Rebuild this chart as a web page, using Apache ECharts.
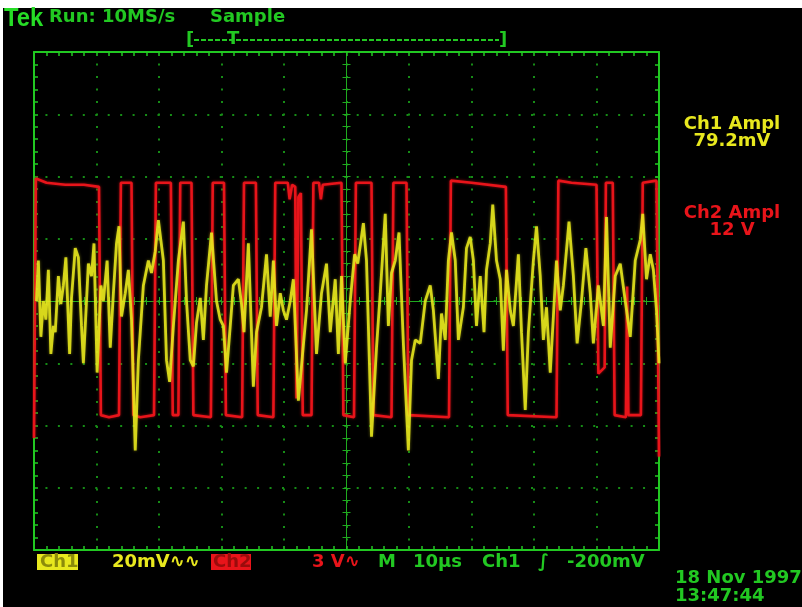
<!DOCTYPE html>
<html><head><meta charset="utf-8">
<script src="https://cdn.jsdelivr.net/npm/echarts@6/dist/echarts.min.js"></script>
<style>
html,body{margin:0;padding:0;background:#fff;}
#screen{position:absolute;left:3px;top:8px;width:799px;height:599px;background:#000;}
#chart{position:absolute;left:0;top:0;width:802px;height:607px;}
</style></head><body>
<div id="screen"></div><div id="chart"></div>
<script>
// Horizontal: 10 divisions of 10 µs. Ch1 at 20 mV/div, Ch2 at 3 V/div, 8 divisions each.
const timeRange = [0, 100];
const ch1Range = [-80, 80];
const ch2Range = [-12, 12];

// Ch1 trace: [time µs, mV]
const ch1Trace = [
  [0.4,0],[0.7,13],[1.1,-11.5],[1.5,0],[1.9,-6],[2.3,10],[2.7,-17],[3.1,-8],[3.4,-10],[3.9,8],
  [4.3,-1],[4.7,5],[5.1,14],[5.7,-17],[6.0,1],[6.6,17],[7.1,14],[7.6,-8],[7.9,-20],[8.4,0],
  [8.7,12],[9.2,8],[9.6,18.5],[10.1,-23],[10.7,5],[11.1,0],[11.7,13],[12.2,-15],[12.7,2.5],[13.2,18.5],
  [13.6,24],[14.0,-5],[14.6,2.5],[15.1,10],[15.6,-6],[16.2,-48],[16.7,-19],[17.5,5],[18.3,13],[18.8,9],
  [19.4,16],[19.9,26],[20.7,13],[21.2,-19],[21.7,-26],[22.3,-8],[23.1,13],[23.9,25.5],[24.4,0],[25.0,-19],
  [25.5,-21],[26.0,-7],[26.6,1],[27.1,-12.5],[27.6,5],[28.4,22],[29.2,0],[29.8,-6],[30.3,-8],[30.8,-23],
  [31.4,-8],[31.9,5],[32.7,7],[33.2,-1],[33.6,-10],[34.3,18.5],[35.1,-27.5],[35.6,-10],[36.4,-2],[37.2,15],
  [37.8,-5],[38.3,13],[38.8,-8],[39.4,2.5],[39.9,-3],[40.4,-6],[41.0,0],[41.5,7],[42.3,-32],[43.6,-3],
  [44.4,23],[45.2,-17],[46.0,2.5],[46.8,12],[47.4,-10],[48.2,7],[48.7,-17],[49.2,8],[49.8,-20],[50.6,0],
  [51.3,15],[51.8,12],[52.7,25],[53.2,13],[53.5,-8],[54.0,-43.6],[54.8,-15],[55.4,2.5],[56.2,28],[56.7,-8],
  [57.2,9],[57.8,13],[58.4,22],[59.1,-13.6],[59.9,-48],[60.4,-19],[61.0,-12.5],[61.8,-13.6],[62.6,0],[63.4,5],
  [63.9,-3],[64.7,-25],[65.2,-4],[65.8,-12.5],[66.3,13],[66.8,22],[67.4,13],[67.9,-12.5],[68.7,-2],[69.2,17],
  [69.8,20.6],[70.3,13],[70.8,-8],[71.4,8],[72.0,-10],[72.4,10],[73.0,18.5],[73.4,31],[74.0,13],[74.6,7],
  [75.1,-16],[75.6,10],[76.2,-3],[76.7,-8],[77.5,15],[78.0,-10],[78.6,-35],[79.1,-10],[79.9,13],[80.4,24],
  [81.0,8],[81.5,-12.5],[82.0,-2],[82.6,-23],[83.1,-5],[83.6,13],[84.2,-3],[84.7,5],[85.6,25.5],[86.3,8],
  [86.9,-13.6],[87.6,0],[88.3,17],[89.0,2.5],[89.5,-13.6],[90.3,5],[91.1,-8],[91.6,27],[92.2,-15],[93.0,8],
  [93.8,12],[94.6,0],[95.4,-11.5],[96.2,13],[97.0,19.6],[97.4,28],[98.0,7],[98.6,15],[99.1,10],[99.6,-3],[100,-20]
];

// Ch2 trace: [time µs, V]
const ch2Trace = [
  [0,-6.6],[0.3,5.9],[2,5.7],[5,5.6],[8,5.6],[10.4,5.5],[10.7,-5.5],[12,-5.6],[13.6,-5.5],
  [13.9,5.7],[15.6,5.7],[15.9,-5.5],[17,-5.6],[19.2,-5.5],
  [19.5,5.7],[21.9,5.7],[22.2,-5.5],[23.1,-5.5],
  [23.4,5.7],[25.2,5.7],[25.5,-5.5],[28.3,-5.6],
  [28.6,5.7],[30.4,5.7],[30.7,-5.5],[33.3,-5.6],
  [33.6,5.7],[35.5,5.7],[35.8,-5.5],[38.3,-5.6],
  [38.6,5.7],[40.6,5.7],[40.9,4.9],[41.3,5.6],[41.8,5.5],[42.0,-4.7],[42.3,5.0],[42.7,5.2],[43.0,-5.5],[44.4,-5.5],
  [44.7,5.7],[45.6,5.7],[45.9,4.9],[46.2,5.6],[49.2,5.7],[49.5,-5.5],[51.2,-5.6],
  [51.5,5.7],[54.0,5.7],[54.3,-5.5],[57.2,-5.6],
  [57.5,5.7],[59.6,5.7],[59.9,-5.5],[66.4,-5.6],
  [66.7,5.8],[70,5.7],[75.5,5.5],[75.8,-5.5],[83.6,-5.6],
  [83.9,5.8],[86,5.7],[90.0,5.6],[90.3,-3.5],[91.3,-3.2],[91.5,5.7],[92.6,5.7],[92.9,-5.5],
  [94.7,-5.6],[94.9,0.7],[95.1,-5.5],[97.1,-5.5],
  [97.4,5.7],[99.6,5.8],[100,-7.5]
];

const GREEN = '#22c822';
const DOT = '#168c16';
const YELLOW = '#e8e81e';
const RED = '#e8141a';
const FONT = 'bold 18px "DejaVu Sans", sans-serif';

const G = {left: 34, top: 52, width: 625, height: 498};

function frameAxis(extra) {
  return Object.assign({
    type: 'value', gridIndex: 0,
    axisLine: {show: true, onZero: false, lineStyle: {color: GREEN, width: 2}},
    axisTick: {show: true, inside: true, length: 4, lineStyle: {color: GREEN, width: 1.5}},
    minorTick: {show: true, splitNumber: 5, length: 4, lineStyle: {color: GREEN, width: 1.5}},
    axisLabel: {show: false},
    splitLine: {show: false}
  }, extra);
}
function centerAxis(extra, inside, line) {
  return Object.assign({
    type: 'value', gridIndex: 0,
    axisLine: {show: line, onZero: false, lineStyle: {color: '#1faa1f', width: 1}},
    axisTick: {show: true, inside: inside, length: 4, lineStyle: {color: '#1faa1f', width: 1}},
    axisLabel: {show: false},
    splitLine: {show: false}
  }, extra);
}

const xAxes = [
  frameAxis({min: timeRange[0], max: timeRange[1], interval: 10, position: 'bottom',
    splitLine: {show: true, lineStyle: {color: DOT, width: 2, type: [2, 10.5], dashOffset: 1}}}),
  frameAxis({min: timeRange[0], max: timeRange[1], interval: 10, position: 'top'}),
  centerAxis({min: timeRange[0], max: timeRange[1], interval: 2, position: 'bottom', offset: -G.height / 2}, true, true),
  centerAxis({min: timeRange[0], max: timeRange[1], interval: 2, position: 'bottom', offset: -G.height / 2}, false, false)
];
const yAxes = [
  frameAxis({min: ch1Range[0], max: ch1Range[1], interval: 20, position: 'left',
    splitLine: {show: true, lineStyle: {color: DOT, width: 2, type: [2, 10.45], dashOffset: 1}}}),
  frameAxis({min: ch2Range[0], max: ch2Range[1], interval: 3, position: 'right'}),
  centerAxis({min: ch1Range[0], max: ch1Range[1], interval: 4, position: 'left', offset: -G.width / 2}, true, true),
  centerAxis({min: ch1Range[0], max: ch1Range[1], interval: 4, position: 'left', offset: -G.width / 2}, false, false)
];

function txt(x, y, s, color, opts) {
  opts = opts || {};
  return {
    type: 'text', x: x, y: y, z: 10,
    scaleX: opts.sx || 1,
    style: {
      text: s, fill: color, font: opts.font || FONT,
      align: opts.align || 'left', textAlign: opts.align || 'left',
      verticalAlign: 'middle', textVerticalAlign: 'middle'
    }
  };
}
function box(x, y, w, h, color) {
  return {type: 'rect', shape: {x: x, y: y, width: w, height: h}, style: {fill: color}, z: 9};
}

const graphics = [
  txt(4, 19, 'Tek', '#26dc26', {font: 'bold 25px "Liberation Sans", sans-serif', sx: 0.95}),
  txt(49, 17, 'Run: 10MS/s', GREEN),
  txt(210, 17, 'Sample', GREEN),
  txt(186, 40, '[', GREEN),
  txt(227, 39, 'T', GREEN),
  txt(499, 40, ']', GREEN),
  {type: 'line', z: 9, shape: {x1: 194, y1: 40, x2: 499, y2: 40},
    style: {stroke: GREEN, lineWidth: 2, lineDash: [5, 2]}},

  txt(732, 124, 'Ch1 Ampl', YELLOW, {align: 'center'}),
  txt(732, 141, '79.2mV', YELLOW, {align: 'center'}),
  txt(732, 213, 'Ch2 Ampl', RED, {align: 'center'}),
  txt(732, 230, '12 V', RED, {align: 'center'}),

  box(37, 554, 41, 16, YELLOW),
  txt(40, 562, 'Ch1', '#8c8c0a'),
  txt(112, 562, '20mV∿∿', YELLOW),
  box(211, 554, 40, 16, RED),
  txt(213, 562, 'Ch2', '#9a0c0c'),
  txt(312, 562, '3 V∿', RED),
  txt(378, 562, 'M', GREEN),
  txt(413, 562, '10µs', GREEN),
  txt(482, 562, 'Ch1', GREEN),
  txt(538, 562, '∫', GREEN),
  txt(567, 562, '-200mV', GREEN),
  txt(675, 578, '18 Nov 1997', GREEN),
  txt(675, 596, '13:47:44', GREEN)
];

const chart = echarts.init(document.getElementById('chart'), null, {renderer: 'canvas'});
chart.setOption({
  backgroundColor: 'transparent',
  animation: false,
  grid: [Object.assign({containLabel: false}, G)],
  xAxis: xAxes,
  yAxis: yAxes,
  series: [
    {
      name: 'Ch2', type: 'line', xAxisIndex: 0, yAxisIndex: 1,
      data: ch2Trace, showSymbol: false, z: 3,
      lineStyle: {color: RED, width: 2.6, shadowColor: 'rgba(232,20,26,0.6)', shadowBlur: 3}
    },
    {
      name: 'Ch1', type: 'line', xAxisIndex: 0, yAxisIndex: 0,
      data: ch1Trace, showSymbol: false, z: 4,
      lineStyle: {color: YELLOW, width: 2.8, opacity: 0.88, shadowColor: 'rgba(232,232,30,0.5)', shadowBlur: 3}
    }
  ],
  graphic: graphics
});
</script>
</body></html>
